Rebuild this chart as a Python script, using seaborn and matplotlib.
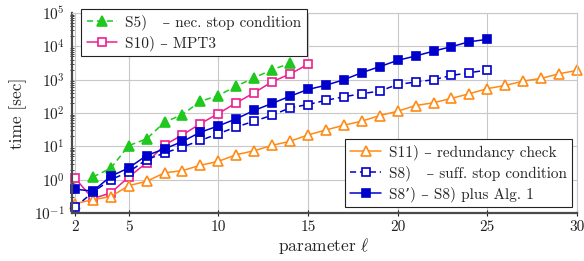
import numpy as np
import pandas as pd
import matplotlib
matplotlib.use("Agg")
import matplotlib.pyplot as plt
import seaborn as sns

# ---- data ----
x_s5 = list(range(3, 15))
t_s5 = [1.2, 2.2, 10.5, 16.7, 53, 90, 225, 335, 640, 1140, 2000, 3100]

x_s10 = list(range(2, 16))
t_s10 = [1.12, 0.27, 0.4, 1.2, 3.2, 11, 22, 48, 96, 203, 405, 870, 1480, 2900]

x_s11 = list(range(2, 31))
t_s11 = [0.19, 0.25, 0.31, 0.66, 0.89, 1.6, 1.87, 2.7, 3.55, 5.6,
         7.4, 10.7, 14.2, 22, 31, 43, 57, 84, 113, 168,
         203, 275, 380, 540, 670, 910, 1090, 1510, 1900]

x_s8 = list(range(2, 26))
t_s8 = [0.147, 0.42, 1.0, 1.7, 4, 6.3, 9.6, 15, 24, 38, 57, 86,
        143, 180, 240, 307, 380, 455, 720, 850, 1000, 1340, 1620, 1950]

x_s8p = list(range(2, 26))
t_s8p = [0.52, 0.45, 1.26, 2.25, 5.3, 8.4, 14, 26.5, 41, 67, 120, 194,
         320, 510, 680, 1000, 1620, 2470, 3800, 5150, 7200, 9800, 13800, 16200]

labels = {
    "S5": "S5)   – nec. stop condition",
    "S10": "S10) – MPT3",
    "S11": "S11) – redundancy check",
    "S8": "S8)   – suff. stop condition",
    "S8p": "S8’) – S8) plus Alg. 1",
}
xticks = [2, 5, 10, 15, 20, 25, 30]

GREEN = "#1ec81e"
PINK = "#ec1f8e"
ORANGE = "#ff8a14"
BLUE = "#0000cc"

sns.set_theme(style="whitegrid")
plt.rcParams["font.family"] = ["cmr10", "DejaVu Serif"]
plt.rcParams["mathtext.fontset"] = "cm"
plt.rcParams["axes.formatter.use_mathtext"] = True

fig = plt.figure(figsize=(5.84, 2.61), dpi=100)
ax = fig.add_axes([0.123, 0.184, 0.865, 0.766])

series = [
    # key, x, y, color, marker, filled, dashed
    ("S5", x_s5, t_s5, GREEN, "^", True, True),
    ("S10", x_s10, t_s10, PINK, "s", False, False),
    ("S11", x_s11, t_s11, ORANGE, "^", False, False),
    ("S8", x_s8, t_s8, BLUE, "s", False, True),
    ("S8p", x_s8p, t_s8p, BLUE, "s", True, False),
]

handles = {}
for key, xs, ys, col, mk, filled, dashed in series:
    df = pd.DataFrame({"x": xs, "t": ys})
    n_before = len(ax.lines)
    sns.lineplot(data=df, x="x", y="t", ax=ax, color=col, marker=mk,
                 markersize=6.3 if mk == "s" else 7.0,
                 markerfacecolor=col if filled else "white",
                 markeredgecolor=col, markeredgewidth=1.2,
                 linewidth=1.1, linestyle=(0, (4, 2.5)) if dashed else "-",
                 label=labels[key], legend=False, clip_on=False)
    handles[key] = ax.lines[n_before]

ax.set_yscale("log")
ax.set_xlim(1.83, 30)
ax.set_ylim(0.1, 1e5)
ax.set_xticks(xticks)
ax.set_xticklabels([str(v) for v in xticks])
ax.set_yticks([10.0 ** k for k in range(-1, 6)])
ax.yaxis.set_minor_locator(matplotlib.ticker.LogLocator(base=10, subs=np.arange(2, 10), numticks=20))
ax.yaxis.set_minor_formatter(matplotlib.ticker.NullFormatter())

ax.grid(True, which="major", color="#c8c8c8", linewidth=0.8)
ax.grid(False, which="minor")
ax.set_facecolor("white")

for side in ["top", "right"]:
    ax.spines[side].set_color("#c8c8c8")
    ax.spines[side].set_linewidth(0.8)
for side in ["left", "bottom"]:
    ax.spines[side].set_color("#4a4a4a")
    ax.spines[side].set_linewidth(1.6)

ax.tick_params(axis="both", which="major", labelsize=11, colors="#222222",
               direction="inout", length=4, width=0.8, pad=3)
ax.tick_params(axis="y", which="minor", direction="inout", length=3, width=0.6,
               left=True, color="#222222")
ax.tick_params(axis="x", which="major", bottom=True)

ax.set_xlabel(r"parameter $\ell$", fontsize=12.5, labelpad=2)
ax.set_ylabel("time [sec]", fontsize=12.5, labelpad=5)

leg_kw = dict(fontsize=11, frameon=True, fancybox=False, framealpha=1,
              edgecolor="#222222", handlelength=2.0, handletextpad=0.5,
              borderpad=0.35, labelspacing=0.35, borderaxespad=0.1)

leg1 = ax.legend([handles["S5"], handles["S10"]], [labels["S5"], labels["S10"]],
                 loc="upper left", bbox_to_anchor=(0.016, 1.028), **leg_kw)
leg1.get_frame().set_linewidth(0.8)
leg1.set_zorder(10)
ax.add_artist(leg1)

leg2 = ax.legend([handles["S11"], handles["S8"], handles["S8p"]],
                 [labels["S11"], labels["S8"], labels["S8p"]],
                 loc="lower right", bbox_to_anchor=(0.993, 0.02), **leg_kw)
leg2.get_frame().set_linewidth(0.8)
leg2.set_zorder(10)

fig.savefig("out.png", dpi=100)
